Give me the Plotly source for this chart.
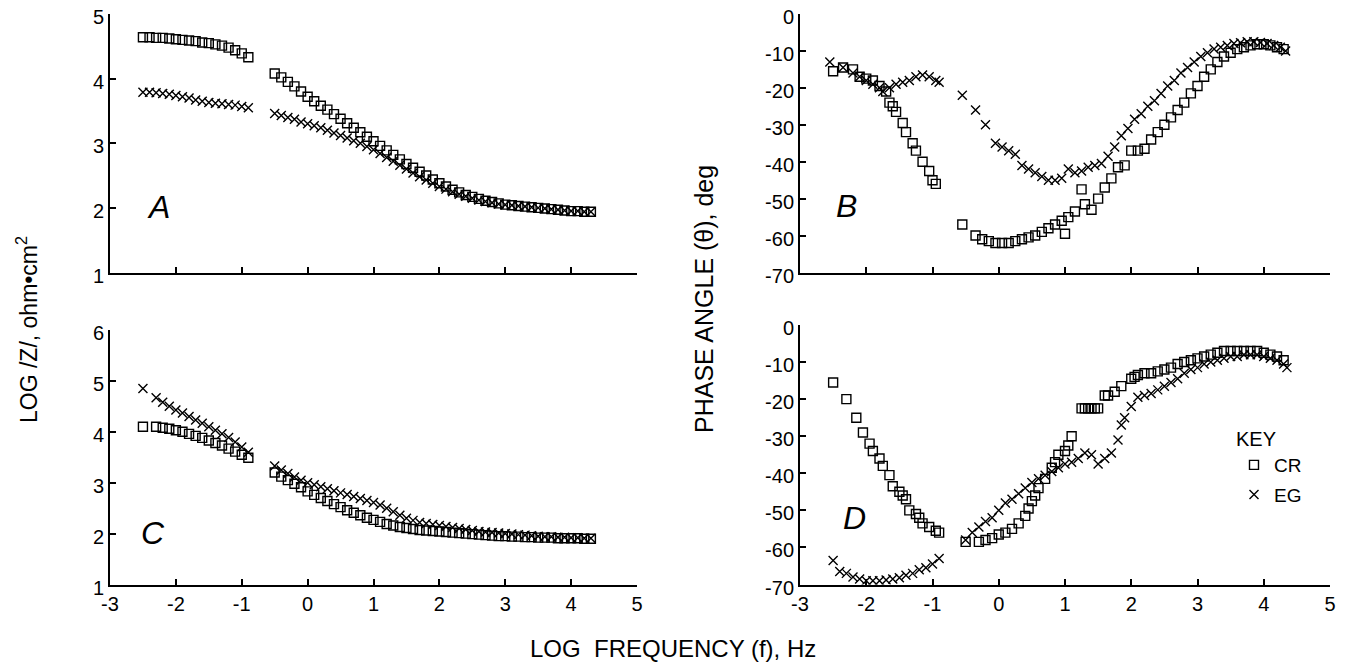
import plotly.graph_objects as go

# ---------------- Panel A : log |Z| (sample set 1) ----------------
a_cr_x = [-2.5,-2.4,-2.3,-2.2,-2.1,-2.0,-1.9,-1.8,-1.7,-1.6,-1.5,-1.4,-1.3,-1.2,-1.1,-1.0,-0.9,
          None,
          -0.5,-0.4,-0.3,-0.2,-0.1,0.0,0.1,0.2,0.3,0.4,0.5,0.6,0.7,0.8,0.9,1.0,1.1,1.2,1.3,1.4,1.5,1.6,1.7,1.8,1.9,
          2.0,2.1,2.2,2.3,2.4,2.5,2.6,2.7,2.8,2.9,3.0,3.1,3.2,3.3,3.4,3.5,3.6,3.7,3.8,3.9,4.0,4.1,4.2,4.3]
a_cr_y = [4.64,4.64,4.63,4.63,4.62,4.61,4.60,4.59,4.58,4.56,4.55,4.53,4.51,4.48,4.44,4.39,4.33,
          None,
          4.08,4.02,3.95,3.88,3.80,3.72,3.65,3.58,3.52,3.45,3.38,3.31,3.24,3.17,3.10,3.03,2.96,2.89,2.82,2.75,2.68,2.62,2.56,2.50,2.44,
          2.38,2.33,2.28,2.24,2.20,2.17,2.14,2.11,2.09,2.07,2.05,2.04,2.03,2.02,2.01,2.00,1.99,1.98,1.97,1.96,1.95,1.95,1.94,1.94]
a_eg_x = [-2.5,-2.4,-2.3,-2.2,-2.1,-2.0,-1.9,-1.8,-1.7,-1.6,-1.5,-1.4,-1.3,-1.2,-1.1,-1.0,-0.9,
          None,
          -0.5,-0.4,-0.3,-0.2,-0.1,0.0,0.1,0.2,0.3,0.4,0.5,0.6,0.7,0.8,0.9,1.0,1.1,1.2,1.3,1.4,1.5,1.6,1.7,1.8,1.9,
          2.0,2.1,2.2,2.3,2.4,2.5,2.6,2.7,2.8,2.9,3.0,3.1,3.2,3.3,3.4,3.5,3.6,3.7,3.8,3.9,4.0,4.1,4.2,4.3]
a_eg_y = [3.79,3.79,3.78,3.77,3.76,3.74,3.72,3.70,3.67,3.65,3.63,3.62,3.61,3.60,3.59,3.57,3.55,
          None,
          3.46,3.43,3.40,3.37,3.33,3.30,3.27,3.24,3.20,3.16,3.12,3.08,3.04,3.00,2.95,2.90,2.84,2.78,2.72,2.66,2.60,2.54,2.48,2.43,2.38,
          2.33,2.29,2.25,2.21,2.18,2.15,2.12,2.10,2.08,2.06,2.05,2.04,2.03,2.02,2.01,2.00,1.99,1.98,1.97,1.96,1.95,1.95,1.94,1.94]

# ---------------- Panel B : phase angle (sample set 1) ----------------
b_cr_x = [-2.5,-2.35,-2.2,-2.1,-2.0,-1.9,-1.8,-1.7,-1.65,-1.6,-1.55,-1.45,-1.4,-1.3,-1.25,-1.15,-1.05,-1.0,-0.95,
          None,
          -0.55,-0.35,-0.25,-0.15,-0.05,0.05,0.15,0.25,0.35,0.45,0.55,0.65,0.75,0.85,0.95,1.0,1.05,1.15,1.25,1.3,1.4,1.5,1.6,1.7,1.8,1.9,
          2.0,2.1,2.2,2.3,2.4,2.5,2.6,2.7,2.8,2.9,3.0,3.1,3.2,3.3,3.4,3.5,3.6,3.7,3.8,3.9,4.0,4.1,4.2,4.3]
b_cr_y = [-15.5,-14.5,-15,-17,-17.5,-18,-19.5,-21,-24,-25,-26.5,-29.5,-32,-35,-37,-40,-42.5,-45,-46,
          None,
          -57,-60,-61,-61.5,-62,-62,-62,-61.5,-61,-60.5,-60,-59,-58,-57,-56,-59.5,-55,-53.5,-47.5,-51.5,-53,-50,-47,-44.5,-41.5,-41,
          -37,-37,-36.5,-34,-32,-30,-28,-26,-24,-21.5,-19.5,-17,-15,-13,-11.5,-10.5,-9.5,-9,-8.5,-8.2,-8.2,-8.5,-9,-9.5]
b_eg_x = [-2.55,-2.35,-2.2,-2.1,-2.0,-1.9,-1.8,-1.75,-1.65,-1.55,-1.45,-1.35,-1.25,-1.15,-1.05,-0.95,-0.9,
          None,
          -0.55,-0.35,-0.2,-0.05,0.05,0.15,0.25,0.35,0.45,0.55,0.65,0.75,0.85,0.95,1.05,1.15,1.25,1.35,1.45,1.55,1.65,1.75,1.85,1.95,
          2.05,2.15,2.25,2.35,2.45,2.55,2.65,2.75,2.85,2.95,3.05,3.15,3.25,3.35,3.45,3.55,3.65,3.75,3.85,3.95,4.05,4.15,4.25,4.33]
b_eg_y = [-13,-14.5,-16,-17,-18,-19,-20,-21,-20,-19,-18.5,-18,-17,-16.5,-17,-18,-18.5,
          None,
          -22,-26,-30,-35,-36,-37,-38,-41,-42,-43,-44,-45,-45,-44.5,-42,-43,-42.5,-41.5,-41,-40.5,-38.5,-36,-33,-31,
          -28.5,-27,-25,-23.5,-21.5,-19.5,-18,-16,-14.5,-13,-11.5,-10.5,-9.5,-9,-8.5,-8,-7.8,-7.5,-7.5,-7.7,-8,-8.5,-9,-10]

# ---------------- Panel C : log |Z| (sample set 2) ----------------
c_cr_x = [-2.5,-2.3,-2.2,-2.1,-2.0,-1.9,-1.8,-1.7,-1.6,-1.5,-1.4,-1.3,-1.2,-1.1,-1.0,-0.9,
          None,
          -0.5,-0.4,-0.3,-0.2,-0.1,0.0,0.1,0.2,0.3,0.4,0.5,0.6,0.7,0.8,0.9,1.0,1.1,1.2,1.3,1.4,1.5,1.6,1.7,1.8,1.9,
          2.0,2.1,2.2,2.3,2.4,2.5,2.6,2.7,2.8,2.9,3.0,3.1,3.2,3.3,3.4,3.5,3.6,3.7,3.8,3.9,4.0,4.1,4.2,4.3]
c_cr_y = [4.10,4.10,4.08,4.06,4.03,4.00,3.96,3.92,3.88,3.83,3.78,3.73,3.67,3.61,3.55,3.49,
          None,
          3.20,3.12,3.05,2.98,2.91,2.83,2.76,2.70,2.64,2.58,2.52,2.46,2.41,2.36,2.31,2.27,2.23,2.19,2.16,2.13,2.11,2.09,2.07,2.06,2.05,
          2.04,2.03,2.02,2.01,2.00,1.99,1.98,1.97,1.96,1.95,1.95,1.94,1.94,1.93,1.93,1.92,1.92,1.92,1.91,1.91,1.91,1.91,1.90,1.90]
c_eg_x = [-2.5,-2.3,-2.2,-2.1,-2.0,-1.9,-1.8,-1.7,-1.6,-1.5,-1.4,-1.3,-1.2,-1.1,-1.0,-0.9,
          None,
          -0.5,-0.4,-0.3,-0.2,-0.1,0.0,0.1,0.2,0.3,0.4,0.5,0.6,0.7,0.8,0.9,1.0,1.1,1.2,1.3,1.4,1.5,1.6,1.7,1.8,1.9,
          2.0,2.1,2.2,2.3,2.4,2.5,2.6,2.7,2.8,2.9,3.0,3.1,3.2,3.3,3.4,3.5,3.6,3.7,3.8,3.9,4.0,4.1,4.2,4.3]
c_eg_y = [4.85,4.67,4.58,4.50,4.43,4.37,4.30,4.23,4.17,4.10,4.03,3.96,3.89,3.80,3.70,3.60,
          None,
          3.33,3.25,3.18,3.11,3.05,3.00,2.96,2.92,2.88,2.84,2.80,2.77,2.73,2.69,2.65,2.61,2.56,2.50,2.43,2.36,2.30,2.26,2.22,2.20,2.18,
          2.16,2.14,2.12,2.10,2.08,2.06,2.04,2.03,2.02,2.01,2.00,1.99,1.98,1.97,1.96,1.95,1.94,1.94,1.93,1.93,1.92,1.92,1.91,1.91]

# ---------------- Panel D : phase angle (sample set 2) ----------------
d_cr_x = [-2.5,-2.3,-2.15,-2.05,-1.95,-1.9,-1.8,-1.75,-1.65,-1.6,-1.5,-1.45,-1.4,-1.35,-1.25,-1.2,-1.15,-1.05,-0.95,-0.9,
          None,
          -0.5,-0.3,-0.2,-0.1,0.0,0.1,0.2,0.3,0.4,0.45,0.5,0.55,0.6,0.7,0.8,0.85,0.9,1.0,1.05,1.1,1.25,1.3,1.35,1.4,1.45,1.5,
          1.6,1.65,1.75,1.85,2.0,2.05,2.1,2.2,2.3,2.4,2.5,2.6,2.7,2.8,2.9,3.0,3.1,3.2,3.3,3.4,3.5,3.6,3.7,3.8,3.9,4.0,4.1,4.2,4.3]
d_cr_y = [-15.5,-20,-25,-29,-32,-34,-36,-38,-40.5,-43.5,-45,-46,-47,-50,-51,-52,-53.5,-54.5,-55.5,-56,
          None,
          -58.5,-58.5,-58,-57.5,-56.5,-56,-55,-53.5,-51.5,-49.5,-47.5,-46,-44,-41.5,-38.5,-37,-35,-34,-32.5,-30,-22.5,-22.5,-22.5,-22.5,-22.5,-22.5,
          -19,-19,-18,-16.5,-14.5,-14,-13.5,-13,-13,-12.5,-12,-11.5,-10.5,-10,-9.5,-9,-8.5,-8,-7.5,-7,-7,-7,-7,-7,-7,-7.5,-8,-8.5,-9.5]
d_eg_x = [-2.5,-2.4,-2.3,-2.2,-2.1,-2.0,-1.9,-1.8,-1.7,-1.6,-1.5,-1.4,-1.3,-1.2,-1.1,-1.0,-0.9,
          None,
          -0.5,-0.4,-0.3,-0.2,-0.1,0.0,0.1,0.2,0.3,0.4,0.5,0.6,0.7,0.8,0.9,1.0,1.1,1.2,1.3,1.4,1.5,1.6,1.7,1.8,1.85,1.9,
          2.0,2.1,2.2,2.3,2.4,2.5,2.6,2.7,2.8,2.9,3.0,3.1,3.2,3.3,3.4,3.5,3.6,3.7,3.8,3.9,4.0,4.1,4.2,4.3,4.35]
d_eg_y = [-63.5,-66.5,-67,-68,-68.5,-69,-69,-69,-68.8,-68.5,-68.2,-67.5,-67,-66,-65.5,-64.5,-63,
          None,
          -58,-56,-54.5,-53,-52,-50,-48,-47,-45.5,-44,-42.5,-41.5,-40.5,-39.5,-38.5,-37.5,-37,-36,-34.5,-35,-37.5,-36,-34.5,-31,-27,-25,
          -22,-19.5,-19,-18.5,-17.5,-16.5,-15.5,-14.5,-13,-12,-11.5,-10.5,-10,-9.5,-9,-8.5,-8.5,-8,-8,-8,-8.5,-9,-9.5,-10.5,-11.5]

# ---------------- Axis ticks ----------------
x_ticks = [-3, -2, -1, 0, 1, 2, 3, 4, 5]
x_labels = ["-3", "-2", "-1", "0", "1", "2", "3", "4", "5"]
za_ticks = [1, 2, 3, 4, 5]
zc_ticks = [1, 2, 3, 4, 5, 6]
ph_ticks = [-70, -60, -50, -40, -30, -20, -10, 0]
ph_labels = ["-70", "-60", "-50", "-40", "-30", "-20", "-10", "0"]

series_names = ["CR", "EG"]
panel_letters = ["A", "B", "C", "D"]

# The page body keeps the browser's 8 px margin, so the figure is sized to fit
# inside the 1346x670 window and screen positions are shifted by that margin.
OFF = 8
W, H = 1330, 654
FONT = "Liberation Sans, Arial, Helvetica, sans-serif"


def px_x(a, b):
    return [(a - OFF) / W, (b - OFF) / W]


def px_y(top, bottom):
    return [1 - (bottom - OFF) / H, 1 - (top - OFF) / H]


def pap_x(a):
    return (a - OFF) / W


def pap_y(a):
    return 1 - (a - OFF) / H


fig = go.Figure()

sq = dict(symbol="square-open", size=9, color="black", line=dict(width=1.4, color="black"))
xx = dict(symbol="x-thin-open", size=9, color="black", line=dict(width=1.4, color="black"))

panels = [
    ("x", "y", a_cr_x, a_cr_y, a_eg_x, a_eg_y),
    ("x2", "y2", b_cr_x, b_cr_y, b_eg_x, b_eg_y),
    ("x3", "y3", c_cr_x, c_cr_y, c_eg_x, c_eg_y),
    ("x4", "y4", d_cr_x, d_cr_y, d_eg_x, d_eg_y),
]
for i, (xa, ya, cx, cy, ex, ey) in enumerate(panels):
    show = (i == 3)
    fig.add_trace(go.Scatter(x=cx, y=cy, mode="markers", marker=sq, xaxis=xa, yaxis=ya,
                             name=series_names[0], legendgroup="cr", showlegend=show))
    fig.add_trace(go.Scatter(x=ex, y=ey, mode="markers", marker=xx, xaxis=xa, yaxis=ya,
                             name=series_names[1], legendgroup="eg", showlegend=show))

axis_common = dict(showline=True, linecolor="black", linewidth=2, ticks="inside", ticklen=6,
                   tickwidth=1.5, tickcolor="black", showgrid=False, zeroline=False,
                   automargin=False, ticklabeloverflow="allow",
                   tickfont=dict(family=FONT, size=20, color="black"), mirror=False)
yaxis_extra = dict(ticklabelshift=3)

left_x = px_x(110, 637)
right_x = px_x(800, 1330)

fig.update_layout(
    template="none",
    width=W, height=H,
    margin=dict(l=0, r=0, t=0, b=0, pad=0),
    paper_bgcolor="white", plot_bgcolor="white",
    font=dict(family=FONT, color="black"),
    xaxis=dict(domain=left_x, range=[-3, 5], anchor="y", tickvals=x_ticks, ticktext=x_labels,
               showticklabels=False, **axis_common),
    yaxis=dict(domain=px_y(14, 272.5), range=[1, 5], anchor="x", tickvals=za_ticks,
               **axis_common, **yaxis_extra),
    xaxis2=dict(domain=right_x, range=[-3, 5], anchor="y2", tickvals=x_ticks, ticktext=x_labels,
                showticklabels=False, **axis_common),
    yaxis2=dict(domain=px_y(14, 272.5), range=[-70, 0], anchor="x2", tickvals=ph_ticks,
                ticktext=ph_labels, **axis_common, **yaxis_extra),
    xaxis3=dict(domain=left_x, range=[-3, 5], anchor="y3", tickvals=x_ticks, ticktext=x_labels,
                **axis_common),
    yaxis3=dict(domain=px_y(330, 584.5), range=[1, 6], anchor="x3", tickvals=zc_ticks,
                **axis_common, **yaxis_extra),
    xaxis4=dict(domain=right_x, range=[-3, 5], anchor="y4", tickvals=x_ticks, ticktext=x_labels,
                **axis_common),
    yaxis4=dict(domain=px_y(325, 584.5), range=[-70, 0], anchor="x4", tickvals=ph_ticks,
                ticktext=ph_labels, **axis_common, **yaxis_extra),
    legend=dict(x=pap_x(1234), y=pap_y(420), xanchor="left", yanchor="top",
                title=dict(text="KEY", font=dict(family=FONT, size=20, color="black")),
                font=dict(family=FONT, size=19, color="black"),
                bgcolor="rgba(0,0,0,0)", borderwidth=0, itemwidth=30, tracegroupgap=2),
)

letter_pos = [("x", "y", -2.27, 2.02), ("x2", "y2", -2.3, -52), ("x3", "y3", -2.35, 2.02), ("x4", "y4", -2.17, -52)]
for letter, (xa, ya, lx, ly) in zip(panel_letters, letter_pos):
    fig.add_annotation(x=lx, y=ly, xref=xa, yref=ya, text=f"<i>{letter}</i>", showarrow=False,
                       xanchor="center", yanchor="middle",
                       font=dict(family=FONT, size=32, color="black"))

fig.add_annotation(x=pap_x(27), y=pap_y(330), xref="paper", yref="paper",
                   text="LOG /Z/, ohm•cm<sup>2</sup>", textangle=-90, showarrow=False,
                   xanchor="center", yanchor="middle",
                   font=dict(family=FONT, size=23, color="black"))
fig.add_annotation(x=pap_x(704), y=pap_y(299), xref="paper", yref="paper",
                   text="PHASE ANGLE (θ), deg", textangle=-90, showarrow=False,
                   xanchor="center", yanchor="middle",
                   font=dict(family=FONT, size=25, color="black"))
fig.add_annotation(x=pap_x(673), y=pap_y(648), xref="paper", yref="paper",
                   text="LOG  FREQUENCY (f), Hz", showarrow=False,
                   xanchor="center", yanchor="middle",
                   font=dict(family=FONT, size=24, color="black"))

fig.write_html("out.html")
